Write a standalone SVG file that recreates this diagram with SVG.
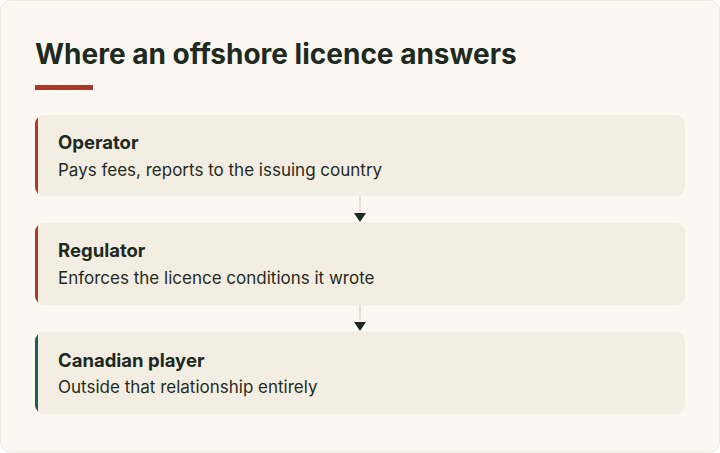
<svg xmlns="http://www.w3.org/2000/svg" width="720" height="453" viewBox="0 0 720 453">
<defs>
<style>
.card{fill:#fcf8f1;stroke:#efe7dc;stroke-width:1}
.box{fill:#f4eee2}
.title{font-family:Inter,"Noto Sans",sans-serif;font-weight:700;font-size:28px;fill:#1c2a1f}
.h{font-family:Inter,"Noto Sans",sans-serif;font-weight:700;font-size:18.5px;fill:#1c2a1f}
.s{font-family:Inter,"Noto Sans",sans-serif;font-weight:400;font-size:17px;fill:#1f2b22}
.line{stroke:#eadcd4;stroke-width:2;fill:none}
.head{fill:#1c2a1f}
</style>
<clipPath id="c1"><rect x="35" y="115" width="650" height="81" rx="9"/></clipPath>
<clipPath id="c2"><rect x="35" y="223" width="650" height="82" rx="9"/></clipPath>
<clipPath id="c3"><rect x="35" y="332" width="650" height="82" rx="9"/></clipPath>
</defs>
<rect class="card" x="0.5" y="0.5" width="719" height="451.5" rx="10"/>
<g id="title">
<text class="title" x="35" y="64">Where an offshore licence answers</text>
<rect x="35" y="85" width="58" height="5" fill="#a63a2c"/>
</g>
<g id="connectors">
<line class="line" x1="360" y1="196" x2="360" y2="214"/>
<polygon class="head" points="354,213 366,213 360,222"/>
<line class="line" x1="360" y1="305" x2="360" y2="323"/>
<polygon class="head" points="354,322 366,322 360,331"/>
</g>
<g id="operator">
<g clip-path="url(#c1)">
<rect class="box" x="35" y="115" width="650" height="81"/>
<rect x="35" y="115" width="3" height="81" fill="#a63a2c"/>
</g>
<text class="h" x="58" y="149">Operator</text>
<text class="s" x="58" y="176">Pays fees, reports to the issuing country</text>
</g>
<g id="regulator">
<g clip-path="url(#c2)">
<rect class="box" x="35" y="223" width="650" height="82"/>
<rect x="35" y="223" width="3" height="82" fill="#a63a2c"/>
</g>
<text class="h" x="58" y="257">Regulator</text>
<text class="s" x="58" y="284">Enforces the licence conditions it wrote</text>
</g>
<g id="player">
<g clip-path="url(#c3)">
<rect class="box" x="35" y="332" width="650" height="82"/>
<rect x="35" y="332" width="3" height="82" fill="#1d5f58"/>
</g>
<text class="h" x="58" y="367">Canadian player</text>
<text class="s" x="58" y="393">Outside that relationship entirely</text>
</g>
</svg>
